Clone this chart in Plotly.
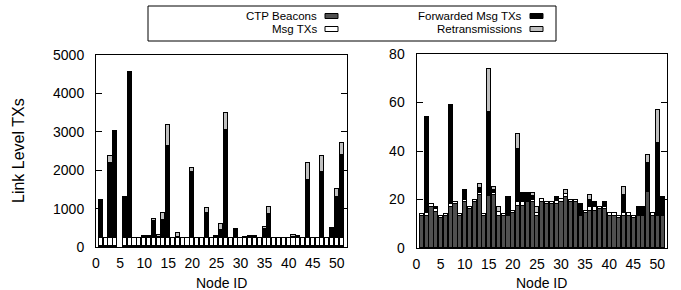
import plotly.graph_objects as go

W, H = 681, 290

nodes = list(range(1, 52))
x_ticks = [0, 5, 10, 15, 20, 25, 30, 35, 40, 45, 50]
series_names = ["CTP Beacons", "Msg TXs", "Forwarded Msg TXs", "Retransmissions"]
series_colors = ["#505050", "#ffffff", "#000000", "#c0c0c0"]

# ---- left panel (nodes 1..51) ----
left_beacons = [15, 15, 15, 15, 0, 15, 15, 15, 15, 15, 15, 15, 15, 15, 15, 15, 15, 15, 15, 15,
                15, 15, 15, 15, 15, 15, 15, 15, 15, 15, 15, 15, 15, 15, 15, 15, 15, 15, 15, 15,
                15, 15, 15, 15, 15, 15, 15, 15, 15, 15, 15]
left_msg = [215, 215, 215, 215, 0, 215, 215, 215, 215, 215, 215, 215, 215, 215, 215, 215, 215, 215, 215, 215,
            215, 215, 215, 215, 215, 215, 215, 215, 215, 215, 215, 215, 215, 215, 215, 215, 215, 215, 215, 215,
            215, 215, 215, 215, 215, 215, 215, 215, 215, 215, 215]
left_fwd = [995, 0, 1945, 2780, 0, 1050, 4300, 0, 0, 20, 20, 445, 40, 468, 2395, 0, 20, 0, 0, 1727,
            0, 0, 659, 0, 20, 225, 2829, 0, 240, 0, 15, 20, 20, 0, 250, 642, 0, 0, 0, 0,
            30, 20, 0, 1510, 0, 0, 1735, 0, 260, 1076, 2178]
left_ret = [10, 0, 200, 15, 0, 10, 15, 0, 5, 25, 25, 67, 55, 191, 556, 0, 118, 0, 0, 113,
            0, 0, 139, 0, 35, 139, 443, 0, 10, 0, 20, 25, 25, 10, 40, 173, 0, 0, 0, 0,
            50, 25, 0, 450, 0, 0, 417, 0, 10, 217, 303]

# ---- right panel (nodes 1..51) ----
right_beacons = [13, 13, 17, 15, 12.5, 13, 17, 18, 13, 18.8, 16, 19, 22, 13, 21.5, 22, 13.3, 13, 13, 14.5,
                 17.5, 17.5, 19, 19, 13.3, 19, 18, 18, 18, 19, 21, 19, 19, 13, 14.5, 15.3, 15.3, 16, 16, 13.3,
                 13.3, 12.5, 13.3, 13.3, 12.5, 13.3, 13.3, 23, 13.3, 13.3, 13.3]
right_msg = [1, 1.5, 1, 1, 0.8, 1, 1, 1, 1, 1, 1, 1, 0.5, 1, 0.5, 0.5, 1.5, 1, 0.5, 0.8,
             1.3, 1.3, 0.5, 0.8, 1, 1.2, 1.1, 1.1, 1.5, 1.2, 1.3, 1, 1, 0.5, 0.8, 1.8, 1.8, 1, 1, 1,
             1, 0.8, 1, 1, 0.8, 0.5, 0.5, 0.2, 1, 0.3, 0.3]
right_fwd = [0, 39.5, 0, 1, 0, 0, 41, 0, 0, 4.2, 0, 0, 2.2, 0, 34, 1.5, 0, 0, 7.5, 0,
             22.2, 4, 3.3, 1.5, 0, 0, 0, 0, 1.7, 0, 0, 0, 0, 4.5, 0, 2.7, 2, 0, 2.1, 0,
             0, 0, 7.6, 0, 0, 3.2, 3.2, 11.8, 0, 29.6, 7.6]
right_ret = [0, 0, 0, 0, 0, 0, 0, 0, 0, 0, 0, 0, 1.5, 0, 17.8, 1.2, 2.2, 0, 0, 0,
             5.9, 0, 0, 1.5, 2.7, 0, 0, 0, 0, 0, 1.7, 0, 0, 0, 0, 2.2, 0, 0, 0, 0,
             0, 0, 3.1, 0, 0, 0, 0, 3.2, 0, 13.8, 0]

left_series = [left_beacons, left_msg, left_fwd, left_ret]
right_series = [right_beacons, right_msg, right_fwd, right_ret]

FONT = "Liberation Sans, Arial, sans-serif"


def px_x(p):
    return p / W


def px_y(p):
    return 1 - p / H


def nz(vals):
    return [v if v else None for v in vals]


fig = go.Figure()
for series, xa, ya in [(left_series, "x", "y"), (right_series, "x2", "y2")]:
    for name, color, vals in zip(series_names, series_colors, series):
        fig.add_trace(go.Bar(
            x=nodes, y=nz(vals), name=name, xaxis=xa, yaxis=ya,
            width=0.85,
            marker=dict(color=color, line=dict(color="black", width=1)),
            showlegend=False,
        ))

axis_common = dict(showline=True, linecolor="black", linewidth=1, showgrid=False,
                   zeroline=False, automargin=False,
                   tickfont=dict(family=FONT, size=14, color="black"))

fig.update_layout(
    width=W, height=H, autosize=False,
    margin=dict(l=0, r=0, t=0, b=0, pad=0, autoexpand=False),
    paper_bgcolor="white", plot_bgcolor="white",
    barmode="stack", bargap=0, showlegend=False,
    xaxis=dict(domain=[px_x(96), px_x(346.5)], range=[0, 52], tickvals=x_ticks,
               ticks="", mirror=True, anchor="y", ticklabelstandoff=3, **axis_common),
    yaxis=dict(domain=[px_y(247), px_y(55)], range=[0, 5000], dtick=1000,
               ticks="inside", ticklen=6, tickcolor="black", mirror="ticks", anchor="x",
               ticklabelstandoff=8, **axis_common),
    xaxis2=dict(domain=[px_x(416.5), px_x(667)], range=[0, 52], tickvals=x_ticks,
                ticks="", mirror=True, anchor="y2", ticklabelstandoff=3, **axis_common),
    yaxis2=dict(domain=[px_y(248), px_y(54)], range=[0, 80], dtick=20,
                ticks="inside", ticklen=6, tickcolor="black", mirror="ticks", anchor="x2",
                ticklabelstandoff=8, **axis_common),
)

annotations = [
    dict(text="Link Level TXs", x=px_x(18), y=px_y(151), xref="paper", yref="paper",
         textangle=-90, showarrow=False, xanchor="center", yanchor="middle",
         font=dict(family=FONT, size=16, color="black")),
    dict(text="Node ID", x=px_x(221), y=px_y(282.5), xref="paper", yref="paper",
         showarrow=False, xanchor="center", yanchor="middle",
         font=dict(family=FONT, size=14, color="black")),
    dict(text="Node ID", x=px_x(541.5), y=px_y(282.5), xref="paper", yref="paper",
         showarrow=False, xanchor="center", yanchor="middle",
         font=dict(family=FONT, size=14, color="black")),
]
shapes = [
    dict(type="rect", xref="paper", yref="paper", x0=px_x(148), x1=px_x(556),
         y0=px_y(41), y1=px_y(6), line=dict(color="black", width=1), fillcolor="rgba(0,0,0,0)"),
]

# legend entries: text right-aligned, swatch on the right (two columns)
legend_pos = [(318, 325, 16), (318, 325, 29), (523, 530, 16), (523, 530, 29)]
for name, color, (tx, sx, cy) in zip(series_names, series_colors, legend_pos):
    annotations.append(dict(text=name, x=px_x(tx), y=px_y(cy), xref="paper", yref="paper",
                            showarrow=False, xanchor="right", yanchor="middle", borderpad=0,
                            font=dict(family=FONT, size=11.5, color="black")))
    shapes.append(dict(type="rect", xref="paper", yref="paper",
                       x0=px_x(sx), x1=px_x(sx + 13), y0=px_y(cy + 2.5), y1=px_y(cy - 2.5),
                       line=dict(color="black", width=1), fillcolor=color))

fig.update_layout(annotations=annotations, shapes=shapes)
fig.write_html(
    "out.html",
    config={"responsive": False, "displayModeBar": False},
    post_script="document.body.style.margin='0';document.body.style.padding='0';"
                "document.body.style.overflow='hidden';"
                "document.documentElement.style.overflow='hidden';",
)
